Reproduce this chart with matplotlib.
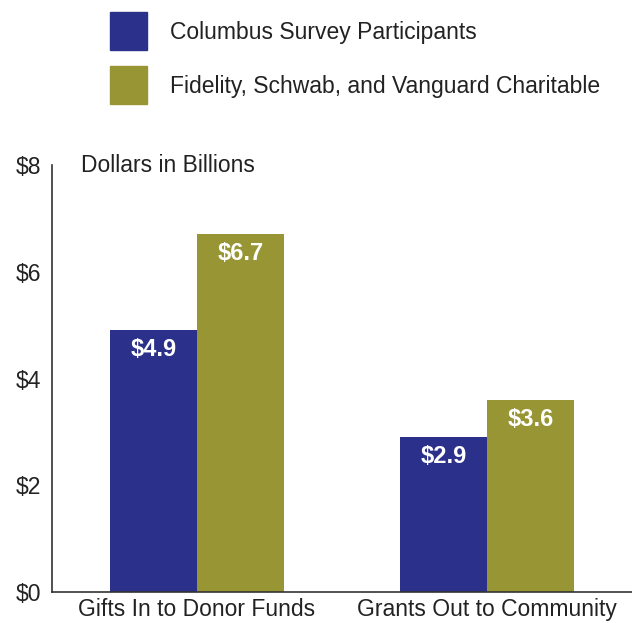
import matplotlib
matplotlib.use('Agg')
import matplotlib.pyplot as plt
import numpy as np
from matplotlib.patches import Rectangle

plt.rcParams['font.family'] = ['Liberation Sans', 'DejaVu Sans']

categories = ['Gifts In to Donor Funds', 'Grants Out to Community']
series_names = ['Columbus Survey Participants', 'Fidelity, Schwab, and Vanguard Charitable']
columbus = [4.9, 2.9]
national = [6.7, 3.6]
yticks = [0, 2, 4, 6, 8]
ytick_labels = ['$0', '$2', '$4', '$6', '$8']

blue = '#2b318a'
olive = '#989534'

fig = plt.figure(figsize=(6.32, 6.23), dpi=100)
ax = fig.add_axes([52 / 632, 31 / 623, 580 / 632, 427 / 623])

x = np.arange(len(categories))
w = 0.30
b1 = ax.bar(x - w / 2, columbus, w, color=blue)
b2 = ax.bar(x + w / 2, national, w, color=olive)

for bars, vals in ((b1, columbus), (b2, national)):
    for bar, v in zip(bars, vals):
        ax.text(bar.get_x() + bar.get_width() / 2, v - 0.36, f'${v:.1f}',
                ha='center', va='center', color='white', fontsize=17,
                fontweight='bold')

ax.set_xlim(-0.5, 1.5)
ax.set_ylim(0, 8)
ax.set_yticks(yticks)
ax.set_yticklabels(ytick_labels, fontsize=16.5, color='#222222')
ax.set_xticks(x)
ax.set_xticklabels(categories, fontsize=16.5, color='#222222')
ax.tick_params(length=0)
ax.tick_params(axis='y', pad=8)
ax.tick_params(axis='x', pad=4)
for s in ('top', 'right'):
    ax.spines[s].set_visible(False)
for s in ('left', 'bottom'):
    ax.spines[s].set_color('#333333')
    ax.spines[s].set_linewidth(1.2)

ax.text(-0.40, 8, 'Dollars in Billions', fontsize=16.5, color='#222222',
        ha='left', va='center')

# legend drawn as swatches above the plot
for i, (name, col) in enumerate(zip(series_names, [blue, olive])):
    top = 12 + i * 54
    fig.patches.append(Rectangle((110 / 632, 1 - (top + 38) / 623), 37 / 632, 38 / 623,
                                 transform=fig.transFigure, color=col))
    fig.text(170 / 632, 1 - (top + 21) / 623, name, fontsize=16.5, color='#222222',
             ha='left', va='center')

fig.savefig('out.png', dpi=100)
